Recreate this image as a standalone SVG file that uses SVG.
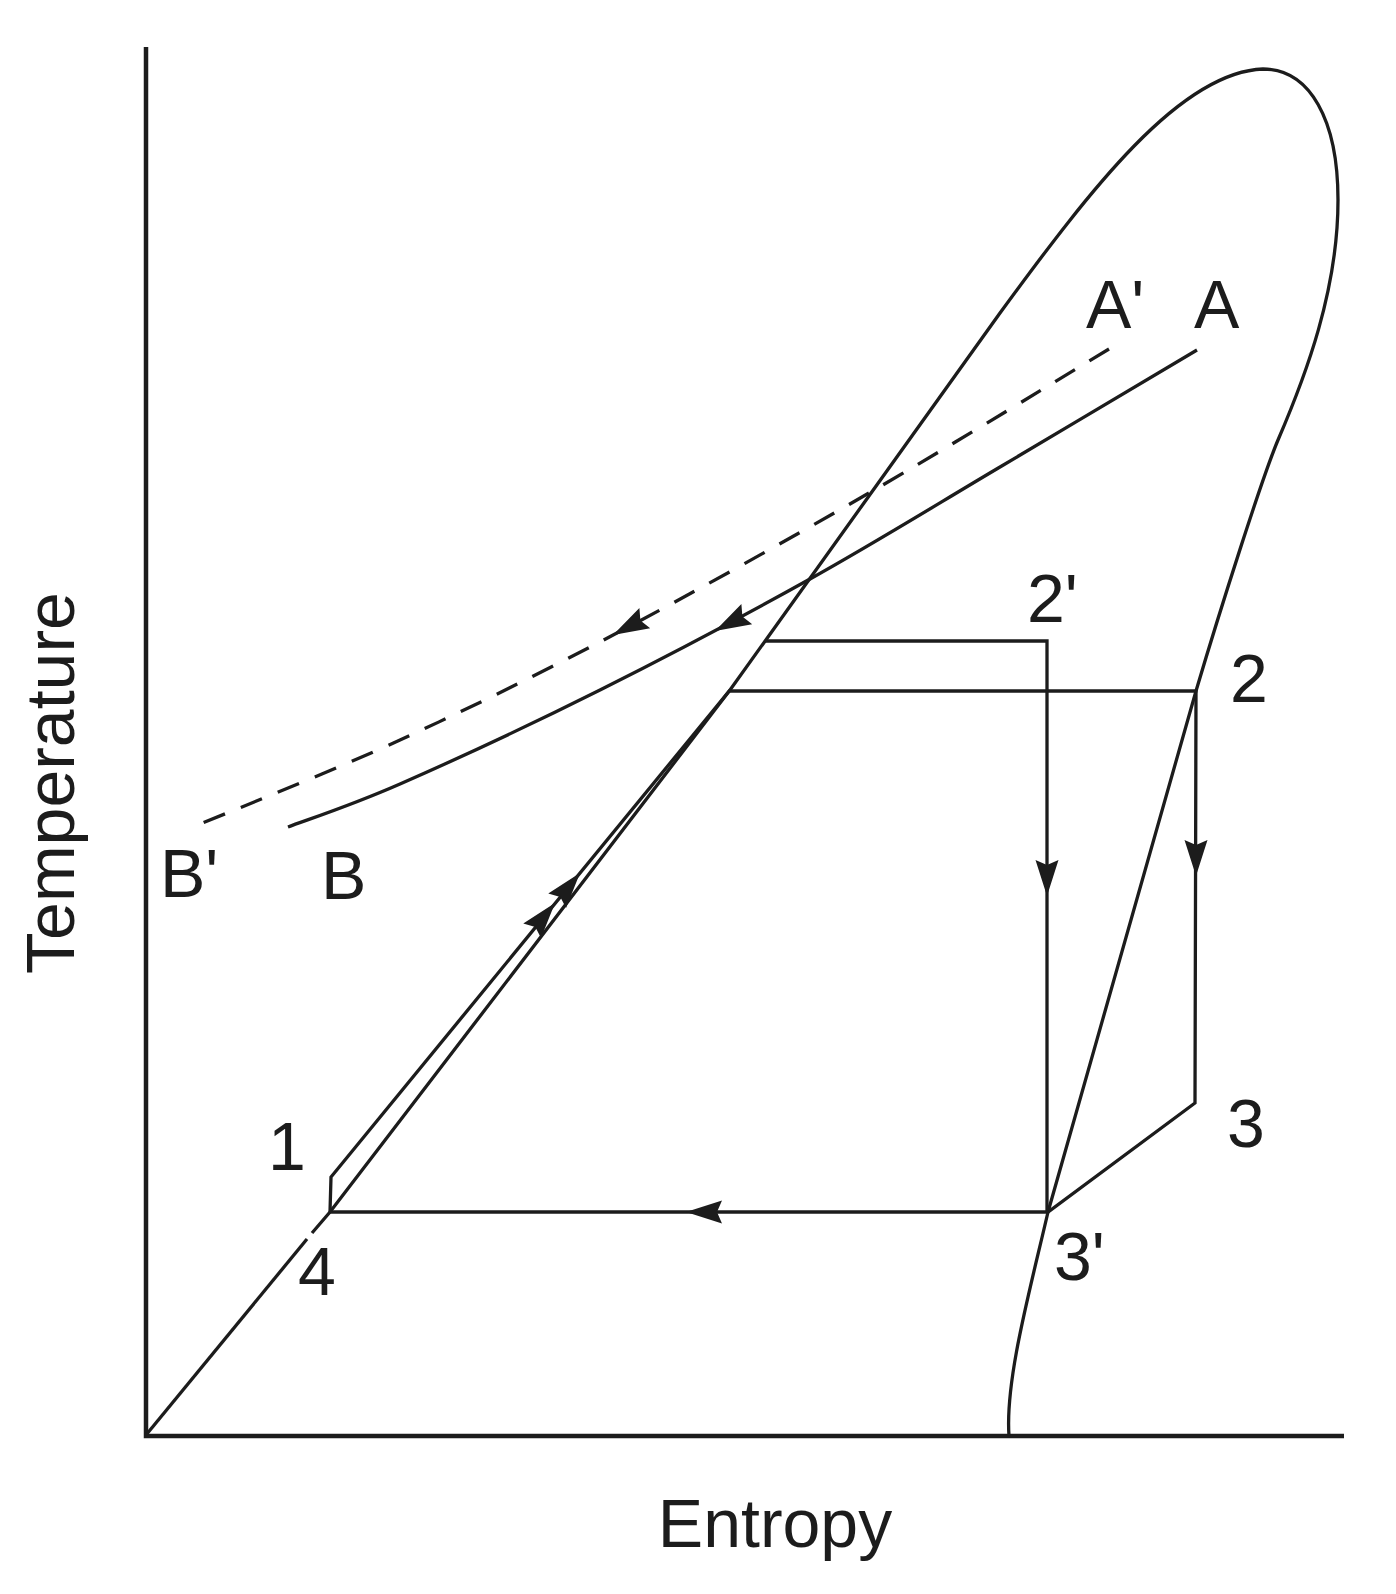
<svg xmlns="http://www.w3.org/2000/svg" width="1396" height="1594" viewBox="0 0 1396 1594">
<style>
.ln{fill:none;stroke:#1c1c1c;stroke-width:3.3;stroke-linejoin:miter}
.ax{fill:none;stroke:#1c1c1c;stroke-width:4.5}
.ds{stroke-dasharray:23 17}
.lb{font-family:"Liberation Sans",Arial,Helvetica,sans-serif;font-size:68px;fill:#1c1c1c}
.ah{fill:#1c1c1c}
</style>
<defs>
<path id="ah" d="M0,0 L-36,-11.5 L-31,0 L-36,11.5 Z"/>
</defs>
<rect width="1396" height="1594" fill="#ffffff"/>
<g id="axes">
<path class="ax" d="M146,47 L146,1436 L1344,1436"/>
</g>
<g id="dome">
<path class="ln" d="M146,1435 L307,1239"/>
<path class="ln" d="M312,1233 L330,1212 L730,690 C820,566 910,437 1000,313 C1090,190 1180,72 1263,69 C1310,69 1338,120 1338,200 C1338,290 1306,375 1278,440 C1262,478 1220,610 1196,691 L1048,1212 C1030,1290 1005,1380 1009,1436"/>
</g>
<g id="connectors">
<path id="line-AB" class="ln" d="M1197,350 C1164,369.5 1064.5,428.8 1000,467 C935.5,505.2 876.7,541.8 810,579 C743.3,616.2 668.3,655.8 600,690 C531.7,724.2 452,761.2 400,784 C348,806.8 306.7,819.8 288,827"/>
<path id="line-AB-prime" class="ln ds" d="M1109,349 C1069,373 951.3,445.5 869,493 C786.7,540.5 693.2,592.8 615,634 C536.8,675.2 470.3,707.8 400,740 C329.7,772.2 227.5,812.5 193,827"/>
<path id="cycle" class="ln" d="M330,1212 L1048,1212 L1195,1103 L1196,691 L730,691"/>
<path id="cycle-1" class="ln" d="M330,1212 L331,1177 L730,690"/>
<path id="cycle-prime" class="ln" d="M766,641 L1047,641 L1047,1212"/>
</g>
<g id="arrows" class="ah">
<use href="#ah" transform="translate(613,635) rotate(152)"/>
<use href="#ah" transform="translate(715,631) rotate(152)"/>
<use href="#ah" transform="translate(580,873) rotate(-50.6)"/>
<use href="#ah" transform="translate(555,903) rotate(-50.6)"/>
<use href="#ah" transform="translate(1047,896) rotate(90)"/>
<use href="#ah" transform="translate(1196,876) rotate(90)"/>
<use href="#ah" transform="translate(686,1212) rotate(180)"/>
</g>
<g id="labels">
<text id="t-A" class="lb" x="1194" y="328">A</text>
<text id="t-Ap" class="lb" x="1086" y="328">A'</text>
<text id="t-Bp" class="lb" x="160" y="897">B'</text>
<text id="t-B" class="lb" x="321" y="899">B</text>
<text id="t-2p" class="lb" x="1027" y="622">2'</text>
<text id="t-2" class="lb" x="1230" y="702">2</text>
<text id="t-3" class="lb" x="1227" y="1147">3</text>
<text id="t-3p" class="lb" x="1054" y="1280">3'</text>
<text id="t-1" class="lb" x="268" y="1170">1</text>
<text id="t-4" class="lb" x="298" y="1295">4</text>
<text id="t-entropy" class="lb" x="775" y="1547" text-anchor="middle">Entropy</text>
<text id="t-temp" class="lb" transform="translate(74,783) rotate(-90)" text-anchor="middle">Temperature</text>
</g>
</svg>
